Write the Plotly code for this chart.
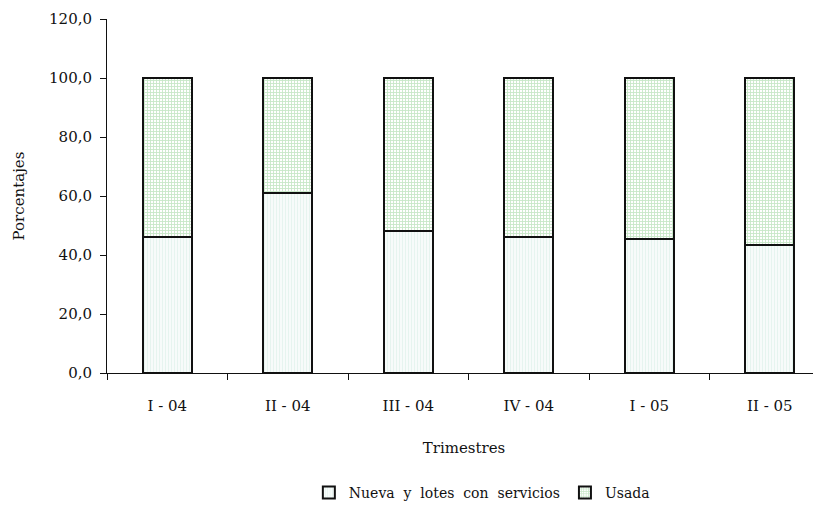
import plotly.graph_objects as go

categories = ["I - 04", "II - 04", "III - 04", "IV - 04", "I - 05", "II - 05"]
nueva = [46.0, 60.9, 48.0, 46.0, 45.3, 43.3]
usada = [54.0, 39.1, 52.0, 54.0, 54.7, 56.7]
series_names = ["Nueva\u00a0 y\u00a0 lotes\u00a0 con\u00a0 servicios", "Usada"]

FONT = "DejaVu Serif"

fig = go.Figure()
fig.add_trace(go.Bar(
    x=categories, y=nueva, name=series_names[0],
    width=0.41,
    marker=dict(color="white", line=dict(color="#111111", width=2),
                pattern=dict(shape="|", fgcolor="#d3ece3", bgcolor="#f9fcfb", size=3, solidity=0.4)),
))
fig.add_trace(go.Bar(
    x=categories, y=usada, name=series_names[1],
    width=0.41,
    marker=dict(color="white", line=dict(color="#111111", width=2),
                pattern=dict(shape="+", fgcolor="#8fcf8f", bgcolor="white", size=3, solidity=0.5)),
))

fig.update_layout(
    barmode="stack",
    width=813, height=501,
    margin=dict(l=99, r=0, t=11, b=135),
    plot_bgcolor="white", paper_bgcolor="white",
    separators=", ",
    font=dict(family=FONT, size=15, color="#111111"),
    showlegend=True,
    legend=dict(orientation="h", x=0.525, xanchor="center", y=-0.295, yanchor="top",
                font=dict(family=FONT, size=14), itemwidth=30, traceorder="normal"),
    xaxis=dict(
        title=dict(text="Trimestres", font=dict(family=FONT, size=15), standoff=28),
        range=[-0.5, 5.425], showline=True, linecolor="#111111", linewidth=1,
        ticks="outside", ticklen=6, tickcolor="#111111", tickson="boundaries",
        ticklabelstandoff=19,
        showgrid=False, tickfont=dict(family=FONT, size=15),
    ),
    yaxis=dict(
        title=dict(text="Porcentajes", font=dict(family=FONT, size=15), standoff=20),
        range=[0, 120], dtick=20, tickformat=".1f",
        showline=True, linecolor="#111111", linewidth=1,
        ticks="outside", ticklen=6, tickcolor="#111111", ticklabelstandoff=5,
        showgrid=False, zeroline=False, tickfont=dict(family=FONT, size=15),
    ),
)

fig.write_html("out.html")
